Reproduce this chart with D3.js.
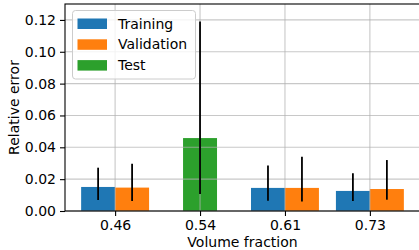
<!DOCTYPE html>
<html>
<head>
<meta charset="utf-8">
<script src="https://cdn.jsdelivr.net/npm/d3@7"></script>
<style>
  body { margin: 0; background: #fff; }
  text { font-family: "DejaVu Sans", sans-serif; }
</style>
</head>
<body>
<div id="chart"></div>
<script>
// volume fractions on the x axis
let categories = ["0.46", "0.54", "0.61", "0.73"];

// mean relative error and the low / high ends of each error bar
let trainMean = [0.0151, null, 0.0145, 0.0126];
let trainLow  = [0.0069, null, 0.0065, 0.0063];
let trainHigh = [0.0272, null, 0.0285, 0.0237];

let valMean = [0.0147, null, 0.0145, 0.0138];
let valLow  = [0.0063, null, 0.0059, 0.0071];
let valHigh = [0.0296, null, 0.0340, 0.0320];

let testMean = [null, 0.0458, null, null];
let testLow  = [null, 0.0107, null, null];
let testHigh = [null, 0.1190, null, null];

let yTicks = [0, 0.02, 0.04, 0.06, 0.08, 0.10, 0.12];

let series = [
    {name: "Training",   mean: trainMean, low: trainLow, high: trainHigh, offset: -0.2, color: "#1f77b4"},
    {name: "Validation", mean: valMean,   low: valLow,   high: valHigh,   offset: 0.2,  color: "#ff7f0e"},
    {name: "Test",       mean: testMean,  low: testLow,  high: testHigh,  offset: 0,    color: "#2ca02c"}
];

let W = 419, H = 250;
let plotL = 65, plotR = 420, plotT = 4, plotB = 211;
let barW = 0.4;

let svg = d3.select("#chart")
    .append("svg")
    .attr("width", W)
    .attr("height", H);

let x = d3.scaleLinear()
    .domain([-0.59, 3.59])
    .range([plotL, plotR]);

let y = d3.scaleLinear()
    .domain([0, 0.13])
    .range([plotB, plotT]);

// bars
series.forEach(s => {
    s.mean.forEach((m, i) => {
        if (m == null) return;
        svg.append("rect")
            .attr("x", x(i + s.offset - barW / 2))
            .attr("y", y(m))
            .attr("width", x(i + s.offset + barW / 2) - x(i + s.offset - barW / 2))
            .attr("height", y(0) - y(m))
            .attr("fill", s.color);
    });
});

// grid (matplotlib draws it over the patches)
let grid = svg.append("g")
    .attr("stroke", "#b0b0b0")
    .attr("stroke-opacity", 0.7)
    .attr("stroke-width", 1.1);

yTicks.forEach(t => {
    grid.append("line")
        .attr("x1", plotL).attr("x2", plotR)
        .attr("y1", y(t)).attr("y2", y(t));
});
categories.forEach((c, i) => {
    grid.append("line")
        .attr("x1", x(i)).attr("x2", x(i))
        .attr("y1", plotT).attr("y2", plotB);
});

// error bars
series.forEach(s => {
    s.mean.forEach((m, i) => {
        if (m == null) return;
        svg.append("line")
            .attr("x1", x(i + s.offset)).attr("x2", x(i + s.offset))
            .attr("y1", y(s.low[i])).attr("y2", y(s.high[i]))
            .attr("stroke", "black")
            .attr("stroke-width", 1.8);
    });
});

// axes
let xAxis = d3.axisBottom(x)
    .tickValues(d3.range(categories.length))
    .tickFormat(i => categories[i])
    .tickSize(5)
    .tickPadding(4);

let yAxis = d3.axisLeft(y)
    .tickValues(yTicks)
    .tickFormat(d3.format(".2f"))
    .tickSize(5)
    .tickPadding(4);

let gx = svg.append("g")
    .attr("transform", `translate(0,${plotB})`)
    .call(xAxis);
let gy = svg.append("g")
    .attr("transform", `translate(${plotL},0)`)
    .call(yAxis);

[gx, gy].forEach(g => {
    g.select(".domain").remove();
    g.selectAll(".tick line").attr("stroke", "black").attr("stroke-width", 1.1);
    g.selectAll(".tick text")
        .attr("fill", "black")
        .style("font-size", "14px")
        .style("font-family", "DejaVu Sans");
});

// spines
svg.append("rect")
    .attr("x", plotL).attr("y", plotT)
    .attr("width", plotR - plotL).attr("height", plotB - plotT)
    .attr("fill", "none")
    .attr("stroke", "black")
    .attr("stroke-width", 1.1);

// axis labels
svg.append("text")
    .attr("x", (plotL + plotR) / 2)
    .attr("y", 247)
    .attr("text-anchor", "middle")
    .style("font-size", "14px")
    .text("Volume fraction");

svg.append("text")
    .attr("transform", `translate(19,${(plotT + plotB) / 2}) rotate(-90)`)
    .attr("text-anchor", "middle")
    .style("font-size", "14px")
    .text("Relative error");

// legend
let legend = svg.append("g");
legend.append("rect")
    .attr("x", 72.5).attr("y", 10.5)
    .attr("width", 123).attr("height", 68.5)
    .attr("rx", 3)
    .attr("fill", "white")
    .attr("fill-opacity", 0.8)
    .attr("stroke", "#cccccc")
    .attr("stroke-width", 1);

series.forEach((s, i) => {
    let cy = 23.5 + i * 20.8;
    legend.append("rect")
        .attr("x", 77.5).attr("y", cy - 5)
        .attr("width", 29.5).attr("height", 10.5)
        .attr("fill", s.color);
    legend.append("text")
        .attr("x", 118)
        .attr("y", cy + 5)
        .style("font-size", "14px")
        .text(s.name);
});
</script>
</body>
</html>
